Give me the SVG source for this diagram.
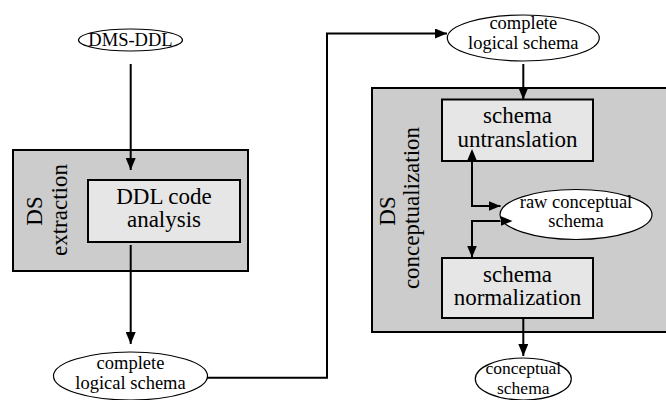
<svg xmlns="http://www.w3.org/2000/svg" width="666" height="400" viewBox="0 0 666 400">
<style>
.outer{fill:#cccccc;stroke:#000;stroke-width:2}
.inner{fill:#e6e6e6;stroke:#000;stroke-width:2}
.ell{fill:#fff;stroke:#000;stroke-width:1.2}
.big{font-family:"Liberation Serif","Times New Roman",serif;font-size:23px;fill:#000;text-anchor:middle}
.small{font-family:"Liberation Serif","Times New Roman",serif;font-size:18.5px;fill:#000;text-anchor:middle}
.conn{fill:none;stroke:#000;stroke-width:2}
</style>
<defs>
<marker id="ah" markerWidth="12" markerHeight="10" refX="12" refY="5" orient="auto" markerUnits="userSpaceOnUse">
<path d="M0,0 L12,5 L0,10 Z" fill="#000"/>
</marker>
<marker id="as" markerWidth="12" markerHeight="10" refX="0" refY="5" orient="auto-start-reverse" markerUnits="userSpaceOnUse">
<path d="M0,0 L12,5 L0,10 Z" fill="#000"/>
</marker>
</defs>

<g id="ds-extraction">
<rect class="outer" x="13" y="150" width="235" height="121"/>
<text class="big" transform="translate(42,211) rotate(-90)">DS</text>
<text class="big" transform="translate(67,210) rotate(-90)">extraction</text>
</g>
<g id="ddl-code-analysis">
<rect class="inner" x="88" y="180" width="152" height="62"/>
<text class="big" x="164" y="204">DDL code</text>
<text class="big" x="164" y="227">analysis</text>
</g>
<g id="dms-ddl">
<ellipse class="ell" cx="130.5" cy="40" rx="52" ry="11"/>
<text class="small" x="130.5" y="46">DMS-DDL</text>
</g>
<g id="complete-logical-schema-1">
<ellipse class="ell" cx="130.5" cy="376" rx="77" ry="24"/>
<text class="small" x="130.5" y="369">complete</text>
<text class="small" x="130.5" y="389">logical schema</text>
</g>

<g id="ds-conceptualization">
<rect class="outer" x="372" y="88" width="300" height="244"/>
<text class="big" transform="translate(395,211) rotate(-90)">DS</text>
<text class="big" transform="translate(419,208) rotate(-90)">conceptualization</text>
</g>
<g id="complete-logical-schema-2">
<ellipse class="ell" cx="523.3" cy="38" rx="76" ry="23"/>
<text class="small" x="523.3" y="29">complete</text>
<text class="small" x="523.3" y="49">logical schema</text>
</g>
<g id="schema-untranslation">
<rect class="inner" x="442" y="99.5" width="151" height="61.5"/>
<text class="big" x="517.5" y="123">schema</text>
<text class="big" x="517.5" y="147">untranslation</text>
</g>
<g id="raw-conceptual-schema">
<ellipse class="ell" cx="576" cy="214.5" rx="76" ry="25"/>
<text class="small" x="576" y="208">raw conceptual</text>
<text class="small" x="576" y="227">schema</text>
</g>
<g id="schema-normalization">
<rect class="inner" x="442" y="258" width="151" height="60"/>
<text class="big" x="517.5" y="282">schema</text>
<text class="big" x="517.5" y="305">normalization</text>
</g>
<g id="conceptual-schema">
<ellipse class="ell" cx="523.3" cy="379" rx="48" ry="21"/>
<text class="small" x="523.3" y="374" style="font-size:17.5px">conceptual</text>
<text class="small" x="523.3" y="394" style="font-size:17.5px">schema</text>
</g>

<g id="connectors">
<line class="conn" x1="130.7" y1="64" x2="130.7" y2="170" marker-end="url(#ah)"/>
<line class="conn" x1="130.7" y1="245" x2="130.7" y2="344" marker-end="url(#ah)"/>
<polyline class="conn" points="207,377.7 327,377.7 327,33.5 447,33.5" marker-end="url(#ah)"/>
<line class="conn" x1="523.3" y1="64" x2="523.3" y2="99.5" marker-end="url(#ah)"/>
<polyline class="conn" points="472,161 472,206 500.5,206" marker-start="url(#as)" marker-end="url(#ah)"/>
<polyline class="conn" points="500.5,221 472,221 472,257.5" marker-start="url(#as)" marker-end="url(#ah)"/>
<line class="conn" x1="523.3" y1="318" x2="523.3" y2="356" marker-end="url(#ah)"/>
</g>
</svg>
